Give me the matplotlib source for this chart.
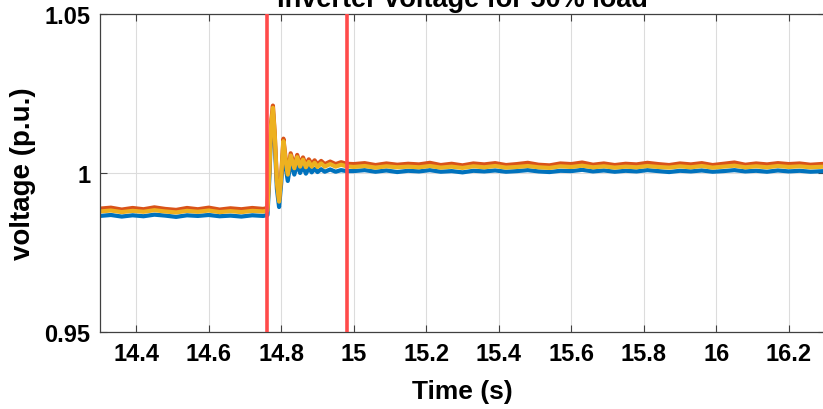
import matplotlib
matplotlib.use('Agg')
import matplotlib.pyplot as plt

# sample times (s)
t = [14.30, 14.33, 14.36, 14.39, 14.42, 14.45, 14.48, 14.51, 14.54, 14.57,
     14.60, 14.63, 14.66, 14.69, 14.72, 14.75,
     14.762, 14.767, 14.772, 14.777, 14.782, 14.788, 14.794, 14.800, 14.806,
     14.812, 14.818, 14.826, 14.836, 14.844, 14.852, 14.860, 14.868, 14.876,
     14.884, 14.892, 14.900, 14.910, 14.920, 14.935, 14.950, 14.965, 14.980,
     15.00, 15.03, 15.06, 15.09, 15.12, 15.15, 15.18, 15.21, 15.24, 15.27,
     15.30, 15.33, 15.36, 15.39, 15.42, 15.45, 15.48, 15.51, 15.54, 15.57,
     15.60, 15.63, 15.66, 15.69, 15.72, 15.75, 15.78, 15.81, 15.84, 15.87,
     15.90, 15.93, 15.96, 15.99, 16.02, 16.05, 16.08, 16.11, 16.14, 16.17,
     16.20, 16.23, 16.26, 16.30]

v_blue = [0.9865, 0.9868, 0.9863, 0.9867, 0.9864, 0.9869, 0.9866, 0.9862, 0.9867, 0.9865,
          0.9868, 0.9864, 0.9866, 0.9863, 0.9867, 0.9865,
          0.9868, 0.9980, 1.0130, 1.0190, 1.0100, 0.9950, 0.9893, 0.9970, 1.0080,
          1.0020, 0.9975, 1.0035, 0.9995, 1.0030, 1.0000, 1.0022, 0.9998, 1.0016,
          1.0002, 1.0013, 1.0003, 1.0012, 1.0004, 1.0011, 1.0004, 1.0009, 1.0006,
          1.0006, 1.0009, 1.0004, 1.0008, 1.0003, 1.0007, 1.0005, 1.0009, 1.0004, 1.0006,
          1.0002, 1.0007, 1.0005, 1.0008, 1.0004, 1.0006, 1.0009, 1.0005, 1.0003, 1.0007,
          1.0006, 1.0010, 1.0005, 1.0008, 1.0004, 1.0007, 1.0005, 1.0009, 1.0006, 1.0003,
          1.0007, 1.0005, 1.0008, 1.0004, 1.0006, 1.0009, 1.0005, 1.0007, 1.0004, 1.0008,
          1.0005, 1.0007, 1.0004, 1.0006]

v_orange = [0.9888, 0.9891, 0.9885, 0.9890, 0.9886, 0.9892, 0.9887, 0.9884, 0.9890, 0.9886,
            0.9891, 0.9885, 0.9889, 0.9886, 0.9890, 0.9887,
            0.9890, 1.0010, 1.0160, 1.0212, 1.0125, 0.9975, 0.9915, 0.9995, 1.0108,
            1.0046, 1.0002, 1.0062, 1.0022, 1.0057, 1.0027, 1.0049, 1.0025, 1.0043,
            1.0028, 1.0040, 1.0027, 1.0038, 1.0028, 1.0036, 1.0028, 1.0034, 1.0029,
            1.0028, 1.0031, 1.0025, 1.0030, 1.0026, 1.0029, 1.0027, 1.0032, 1.0025, 1.0029,
            1.0024, 1.0030, 1.0027, 1.0031, 1.0025, 1.0028, 1.0032, 1.0026, 1.0024, 1.0030,
            1.0028, 1.0033, 1.0026, 1.0030, 1.0025, 1.0029, 1.0027, 1.0032, 1.0028, 1.0025,
            1.0030, 1.0027, 1.0031, 1.0025, 1.0029, 1.0033, 1.0026, 1.0030, 1.0027, 1.0031,
            1.0028, 1.0030, 1.0026, 1.0029]

v_yellow = [0.9879, 0.9882, 0.9877, 0.9881, 0.9878, 0.9883, 0.9879, 0.9876, 0.9881, 0.9878,
            0.9882, 0.9877, 0.9880, 0.9877, 0.9881, 0.9879,
            0.9882, 1.0000, 1.0150, 1.0205, 1.0120, 0.9970, 0.9910, 0.9990, 1.0100,
            1.0040, 0.9995, 1.0055, 1.0015, 1.0050, 1.0020, 1.0042, 1.0018, 1.0035,
            1.0020, 1.0032, 1.0019, 1.0030, 1.0020, 1.0028, 1.0020, 1.0026, 1.0021,
            1.0019, 1.0022, 1.0017, 1.0021, 1.0018, 1.0020, 1.0018, 1.0022, 1.0017, 1.0020,
            1.0016, 1.0021, 1.0018, 1.0022, 1.0017, 1.0019, 1.0022, 1.0018, 1.0016, 1.0021,
            1.0019, 1.0023, 1.0018, 1.0021, 1.0017, 1.0020, 1.0018, 1.0022, 1.0019, 1.0017,
            1.0021, 1.0018, 1.0022, 1.0017, 1.0020, 1.0023, 1.0018, 1.0021, 1.0018, 1.0022,
            1.0019, 1.0021, 1.0018, 1.0020]

event_times = [14.76, 14.98]

xticks = [14.4, 14.6, 14.8, 15.0, 15.2, 15.4, 15.6, 15.8, 16.0, 16.2]
xtick_labels = ['14.4', '14.6', '14.8', '15', '15.2', '15.4', '15.6', '15.8', '16', '16.2']
yticks = [0.95, 1.0, 1.05]
ytick_labels = ['0.95', '1', '1.05']

plt.rcParams['font.family'] = 'Liberation Sans'
plt.rcParams['font.weight'] = 'bold'

fig = plt.figure(figsize=(8.23, 4.10), dpi=100)
ax = fig.add_axes([100/823, 1 - 333/410, 725/823, 318/410])

ax.plot(t, v_blue, color='#0072BD', lw=3)
ax.plot(t, v_orange, color='#D95319', lw=3)
ax.plot(t, v_yellow, color='#EDB120', lw=3)
for et in event_times:
    ax.axvline(et, color='#FF4A4A', lw=2.6, zorder=5)

ax.set_xlim(14.3, 16.3)
ax.set_ylim(0.95, 1.05)
ax.set_xticks(xticks)
ax.set_xticklabels(xtick_labels)
ax.set_yticks(yticks)
ax.set_yticklabels(ytick_labels)
ax.grid(True, color='#DCDCDC', lw=0.8)
ax.set_axisbelow(True)
ax.tick_params(direction='in', length=5, width=0.8, color='#404040',
               labelsize=17, top=True, right=True, pad=7)
for s in ax.spines.values():
    s.set_color('#404040')
    s.set_linewidth(0.9)

ax.set_xlabel('Time (s)', fontsize=19, fontweight='bold', labelpad=10)
ax.set_ylabel('voltage (p.u.)', fontsize=20, fontweight='bold', labelpad=6)
ax.set_title('Inverter voltage for 50% load', fontsize=19.5, fontweight='bold', pad=6)

fig.savefig('out.png', dpi=100)
